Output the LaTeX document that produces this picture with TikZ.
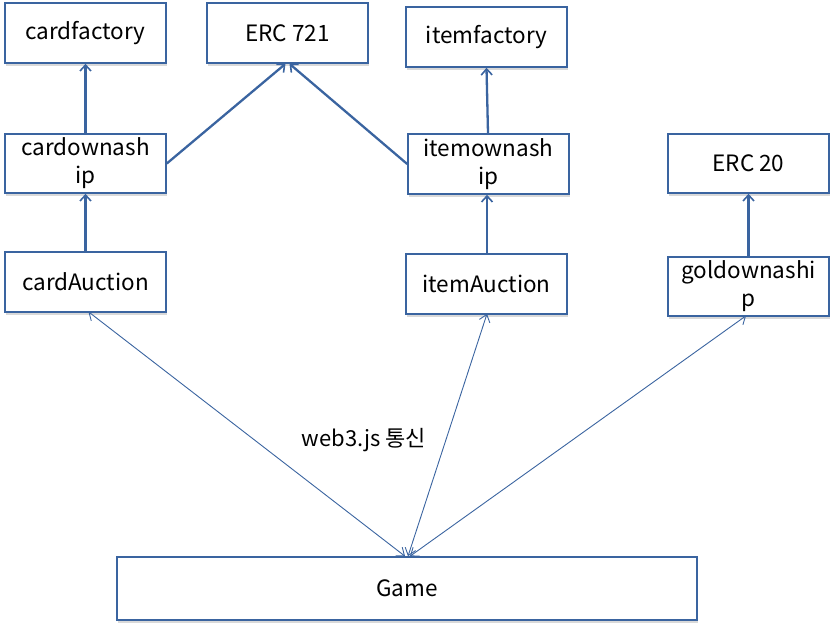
\documentclass[tikz,border=0pt]{standalone}
\usepackage{fontspec}
\setmainfont{Noto Sans CJK KR}
\usetikzlibrary{arrows.meta,shadows}
\definecolor{boxblue}{HTML}{3A64A0}
\tikzset{
  box/.style={draw=boxblue, line width=1.6pt, fill=white, rectangle, align=center,
    inner sep=0pt, font=\fontsize{22.5}{28}\selectfont,
    drop shadow={opacity=0.3, shadow xshift=1pt, shadow yshift=-2.5pt}},
  thick arrow/.style={draw=boxblue, line width=2.3pt, -{Straight Barb[length=6pt,width=11pt,line width=1.6pt]}},
  thin arrow/.style={draw=boxblue, line width=0.9pt, {Straight Barb[length=7pt,width=11pt]}-{Straight Barb[length=7pt,width=11pt]}},
}
\begin{document}
\begin{tikzpicture}[x=1pt,y=-1pt]
\useasboundingbox (0,0) rectangle (834,626);
\node[box, minimum width=161pt, minimum height=60pt] (cardfactory) at (85.5,33) {cardfactory};
\node[box, minimum width=161pt, minimum height=60pt] (erc721) at (287.5,33) {ERC 721};
\node[box, minimum width=161pt, minimum height=59pt] (cardown) at (85.5,163.5) {cardownash\\ip};
\node[box, minimum width=161pt, minimum height=60pt] (cardauc) at (85.5,282) {cardAuction};
\node[box, minimum width=161pt, minimum height=60pt] (itemfactory) at (486.5,37) {itemfactory};
\node[box, minimum width=161pt, minimum height=60pt] (itemown) at (488.5,164) {itemownash\\ip};
\node[box, minimum width=161pt, minimum height=60pt] (itemauc) at (486.5,284) {itemAuction};
\node[box, minimum width=161pt, minimum height=59pt] (erc20) at (748.5,163.5) {ERC 20};
\node[box, minimum width=161pt, minimum height=59pt] (goldown) at (748.5,286.5) {goldownashi\\p};
\node[box, minimum width=580pt, minimum height=63pt] (game) at (407,588.5) {Game};
\node[font=\fontsize{22}{24}\selectfont] (label) at (364,440) {web3.js 통신};

\draw[thick arrow] (cardown.north) -- (cardfactory.south);
\draw[thick arrow] (cardauc.north) -- (cardown.south);
\draw[thick arrow] (cardown.east) -- ([xshift=-2pt]erc721.south);
\draw[thick arrow] (itemown.west) -- ([xshift=2pt]erc721.south);
\draw[thick arrow] ([xshift=-0.5pt]itemown.north) -- (itemfactory.south);
\draw[thick arrow] ([xshift=0.5pt]itemauc.north) -- ([xshift=-1.5pt]itemown.south);
\draw[thick arrow] (goldown.north) -- (erc20.south);

\draw[thin arrow] ([xshift=-2pt]game.north) -- ([xshift=3pt,yshift=1pt]cardauc.south);
\draw[thin arrow] ([xshift=1pt]game.north) -- ([xshift=0.5pt,yshift=1pt]itemauc.south);
\draw[thin arrow] ([xshift=3pt]game.north) -- ([xshift=-2.5pt,yshift=1pt]goldown.south);
\end{tikzpicture}
\end{document}
